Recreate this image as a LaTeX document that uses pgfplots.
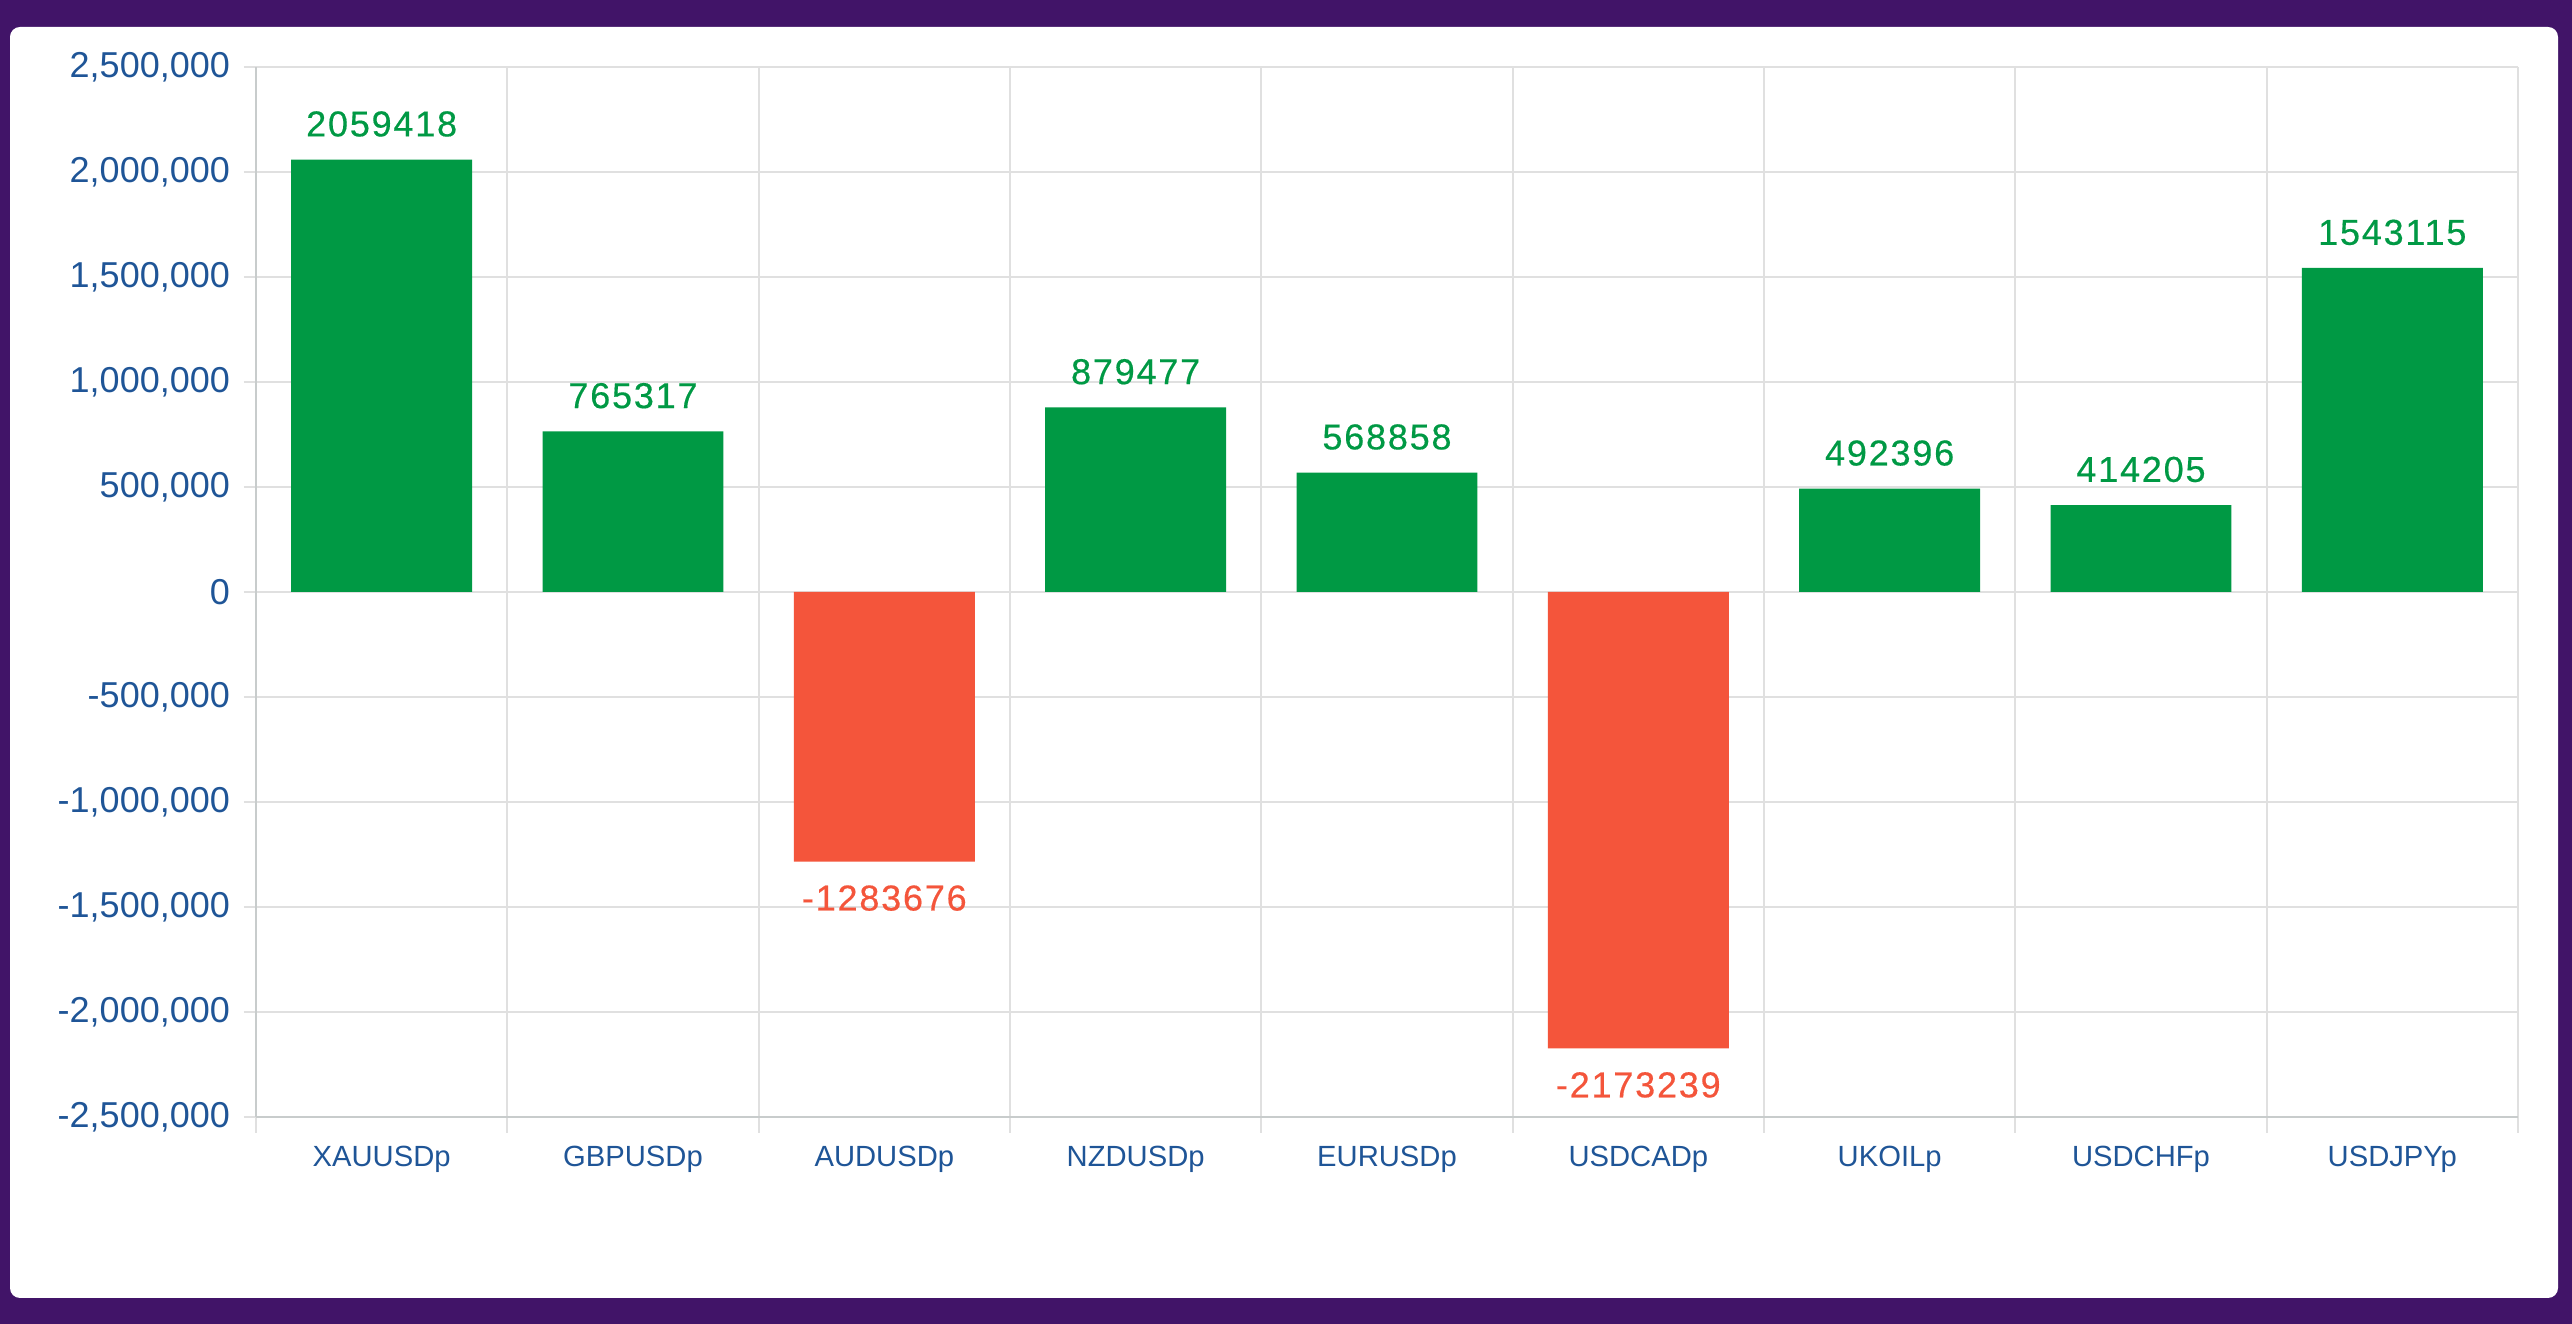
\documentclass[border=0pt]{standalone}
\usepackage{pgfplots}
\pgfplotsset{compat=1.18}
\usepackage{fontspec}
\setmainfont{Liberation Sans}
\newfontfamily\valfont[LetterSpace=5,FakeBold=0.4]{Liberation Sans}
\definecolor{bgpurple}{RGB}{65,20,104}
\definecolor{tickblue}{RGB}{31,85,151}
\definecolor{posgreen}{RGB}{0,153,68}
\definecolor{negred}{RGB}{244,85,59}
\definecolor{gridgray}{RGB}{224,224,224}
\definecolor{axisgray}{RGB}{200,204,204}
\begin{document}
\begin{tikzpicture}
\fill[bgpurple] (0,0) rectangle (643pt,331pt);
\fill[white, rounded corners=2.5pt] (2.5pt,6.5pt) rectangle (639.5pt,324.25pt);
\begin{axis}[
  at={(64pt,51.75pt)}, anchor=south west,
  scale only axis,
  width=565.5pt, height=262.5pt,
  xmin=-0.5, xmax=8.5,
  ymin=-2500000, ymax=2500000,
  ytick={-2500000,-2000000,...,2500000},
  scaled y ticks=false,
  xtick={0,...,8},
  xticklabels={XAUUSDp,GBPUSDp,AUDUSDp,NZDUSDp,EURUSDp,USDCADp,UKOILp,USDCHFp,USDJPYp},
  minor xtick={-0.5,0.5,...,8.5},
  xminorgrids=true, ymajorgrids=true, xmajorgrids=false,
  minor x grid style={gridgray, line width=0.5pt},
  major y grid style={gridgray, line width=0.5pt},
  axis x line*=bottom, axis y line*=left,
  axis line style={axisgray, line width=0.6pt},
  tick align=outside,
  major tick length=3pt,
  minor tick length=4pt,
  major x tick style={draw=none},
  minor x tick style={gridgray, line width=0.5pt},
  major y tick style={gridgray, line width=0.5pt},
  /pgf/number format/assume math mode=true,
  yticklabel style={font=\fontsize{9}{10}\selectfont, text=tickblue,
    /pgf/number format/fixed, /pgf/number format/1000 sep={,}},
  xticklabel style={font=\fontsize{7.3}{9}\selectfont, text=tickblue, yshift=-0.8pt},
  ybar, bar shift=0pt, bar width=0.72,
  point meta=explicit symbolic,
  clip=false,
]
\addplot[fill=posgreen, draw=none,
  nodes near coords,
  every node near coord/.style={anchor=south, inner sep=0pt, yshift=5.5pt,
    font=\valfont\fontsize{9}{10}\selectfont, text=posgreen}]
  coordinates {
  (0,2059418) [2059418]
  (1,765317) [765317]
  (3,879477) [879477]
  (4,568858) [568858]
  (6,492396) [492396]
  (7,414205) [414205]
  (8,1543115) [1543115]
  };
\addplot[fill=negred, draw=none,
  nodes near coords,
  every node near coord/.style={anchor=north, inner sep=0pt, yshift=-5.75pt,
    font=\valfont\fontsize{9}{10}\selectfont, text=negred}]
  coordinates {
  (2,-1283676) [-1283676]
  (5,-2173239) [-2173239]
  };
\end{axis}
\end{tikzpicture}
\end{document}
